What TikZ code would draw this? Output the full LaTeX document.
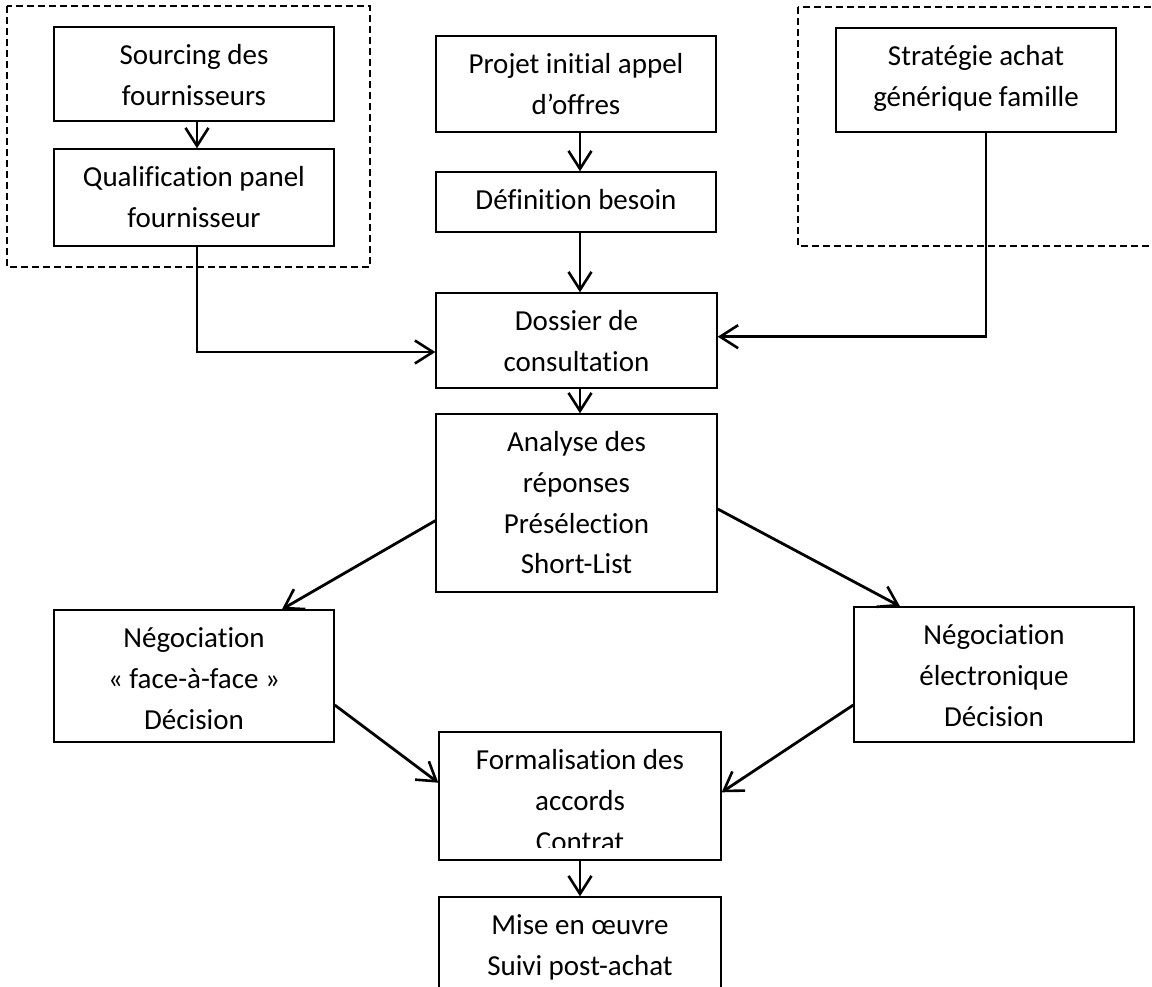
\documentclass[tikz,border=0pt]{standalone}
\usepackage{fontspec}
\setmainfont{Carlito}[Ligatures=NoCommon]
\usetikzlibrary{arrows.meta,calc}

% strut that fixes the height of each first text line
\newcommand\firstline{\rule{0pt}{26pt}}

\begin{document}
\begin{tikzpicture}[
  x=1pt, y=-1pt,
  stepbox/.style={draw=black, line width=1.4pt, rectangle, inner sep=0pt,
                  minimum width=280pt},
  boxtext/.style={anchor=north, inner sep=0pt, align=center,
                  font=\fontsize{29}{40.8}\selectfont},
  groupframe/.style={draw=black, line width=1.2pt, dash pattern=on 7pt off 4pt},
  flow/.style={draw=black, line width=2.8pt,
               -{Straight Barb[length=18pt, width=23pt, line width=2.6pt]}}
]
\useasboundingbox (0,0) rectangle (1152,987);
\clip (0,0) rectangle (1152,987);
\fill[white] (0,0) rectangle (1152,987);

% dashed group frames
\draw[groupframe] (7,6) rectangle (370,267);
\draw[groupframe] (798,7) rectangle (1170,246);

% boxes
\node[stepbox, minimum height=94pt]  (sourcing)   at (194,74) {};
\node[stepbox, minimum height=97pt]  (qual)       at (194,197.5) {};
\node[stepbox, minimum height=96pt]  (projet)     at (576,84) {};
\node[stepbox, minimum height=60pt]  (definition) at (576,202) {};
\node[stepbox, minimum height=104pt] (strategie)  at (976,80) {};
\node[stepbox, minimum width=281pt, minimum height=95pt]  (dossier) at (576.5,340.5) {};
\node[stepbox, minimum width=281pt, minimum height=178pt] (analyse) at (576.5,503) {};
\node[stepbox, minimum height=132pt] (face)       at (194,676) {};
\node[stepbox, minimum height=135pt] (elec)       at (994,674.5) {};
\node[stepbox, minimum width=282pt, minimum height=128pt] (formal) at (580,796) {};
\node[stepbox, minimum width=282pt, minimum height=110pt] (mise)   at (580,952) {};

% box texts
\node[boxtext] (sourcing-t) at ($(sourcing.north)+(0,12)$) {\firstline Sourcing des\\fournisseurs};
\node[boxtext] (qual-t) at ($(qual.north)+(0,12)$) {\firstline Qualification panel\\fournisseur};
\node[boxtext] (projet-t) at ($(projet.north)+(0,12)$) {\firstline Projet initial appel\\d’offres};
\node[boxtext] (definition-t) at ($(definition.north)+(0,12)$) {\firstline Définition besoin};
\node[boxtext] (strategie-t) at ($(strategie.north)+(0,12)$) {\firstline Stratégie achat\\générique famille};
\node[boxtext] (dossier-t) at ($(dossier.north)+(0,12)$) {\firstline Dossier de\\consultation};
\node[boxtext] (analyse-t) at ($(analyse.north)+(0,12)$) {\firstline Analyse des\\réponses\\Présélection\\Short-List};
\node[boxtext] (face-t) at ($(face.north)+(0,12)$) {\firstline Négociation\\« face-à-face »\\Décision};
\node[boxtext] (elec-t) at ($(elec.north)+(0,12)$) {\firstline Négociation\\électronique\\Décision};
\begin{scope}
  \clip (440,733) rectangle (720,847);
  \node[boxtext] (formal-t) at ($(formal.north)+(0,12)$) {\firstline Formalisation des\\accords\\Contrat};
\end{scope}
\node[boxtext] (mise-t) at ($(mise.north)+(0,12)$) {\firstline Mise en œuvre\\Suivi post-achat};

% connectors
\draw[flow] ($(sourcing.south)+(3,0)$) -- ($(qual.north)+(3,0)$);
\draw[flow] ($(projet.south)+(4,0)$) -- ($(definition.north)+(4,0)$);
\draw[flow] ($(definition.south)+(4,0)$) -- ($(dossier.north)+(3.5,0)$);
\draw[flow] ($(qual.south)+(3,0)$) |- ($(dossier.west)+(0,11.5)$);
\draw[flow] ($(strategie.south)+(10,0)$) |- ($(dossier.east)+(0,-3.8)$);
\draw[flow] ($(dossier.south)+(3.5,0)$) -- ($(analyse.north)+(3.5,0)$);
\draw[flow] ($(analyse.west)+(0,17.7)$) -- ($(face.north)+(88,0)$);
\draw[flow] ($(analyse.east)+(0,6)$) -- ($(elec.north)+(-94,0)$);
\draw[flow] ($(face.east)+(0,29)$) -- ($(formal.west)+(0,-13.3)$);
\draw[flow] ($(elec.west)+(0,30.5)$) -- ($(formal.east)+(0,-3.7)$);
\draw[flow] (formal.south) -- (mise.north);
\end{tikzpicture}
\end{document}
